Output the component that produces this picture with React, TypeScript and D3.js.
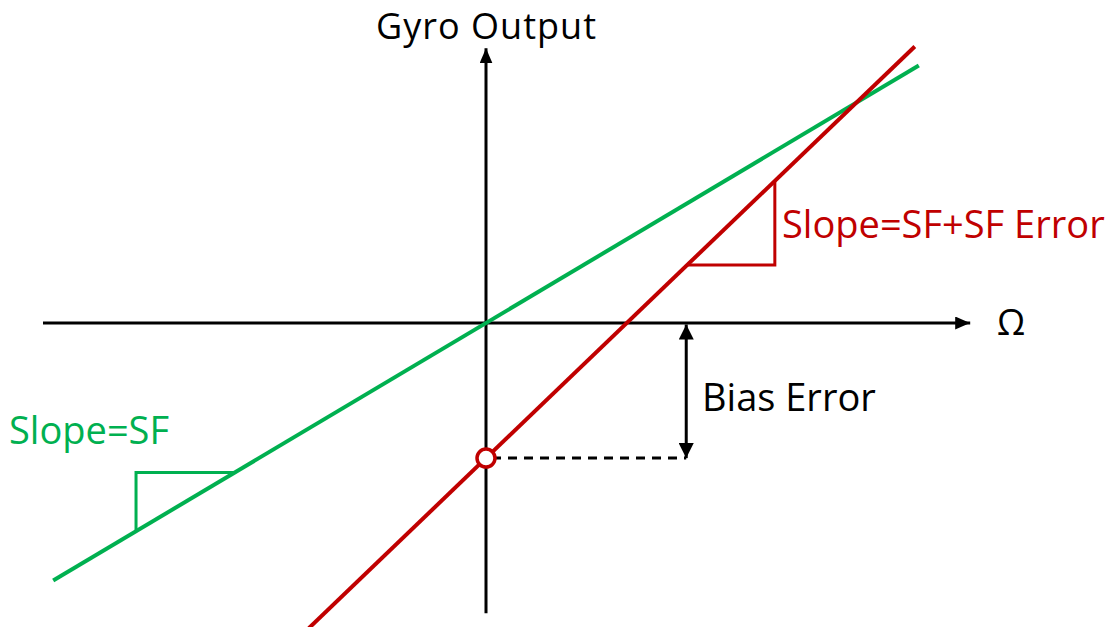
import React from 'react';
import * as d3 from 'd3';

// two response lines: ideal scale factor and scale factor with error + bias
const lineNames = ['SF', 'SF+SF Error'];
const lineColors = ['#00B050', '#C00000'];
const lineSlopes = [0.595, 0.96];
const lineIntercepts = [0, -3.05];
const lineStartX = [-9.77, -4.0];
const lineEndX = [9.77, 9.68];

// slope triangles, [from, to] in omega units
const triangleRuns = [[-7.9, -5.67], [4.54, 6.52]];

// axis extents in chart units
const xAxisExtent = [-10, 10.93];
const yAxisExtent = [-6.55, 6.2];

// where the bias is measured
const biasAt = 4.52;

const width = 1114;
const height = 627;

const xScale = d3.scaleLinear().domain([-10, 10]).range([43, 929]);
const yScale = d3.scaleLinear().domain([-10, 10]).range([766, -120]);

const font = "'Open Sans', 'Noto Sans', sans-serif";

const lineY = (i: number, x: number) => lineSlopes[i] * x + lineIntercepts[i];

const pathGen = d3.line<[number, number]>()
    .x(d => xScale(d[0]))
    .y(d => yScale(d[1]));

export default function App() {
    const bias = lineIntercepts[1];

    const triangles = triangleRuns.map((run, i) => {
        if (i === 0) {
            // green: horizontal above the line, vertical down from it
            const top = lineY(i, run[1]);
            return [[run[0], lineY(i, run[0])], [run[0], top], [run[1], top]] as [number, number][];
        }
        const base = lineY(i, run[0]);
        return [[run[0], base], [run[1], base], [run[1], lineY(i, run[1])]] as [number, number][];
    });

    return (
        <svg width={width} height={height} style={{ position: 'absolute', left: 0, top: 0, background: '#fff' }}>
            <defs>
                <marker id="axisHead" viewBox="0 0 15 13" refX={15} refY={6.5} markerWidth={15} markerHeight={13}
                    markerUnits="userSpaceOnUse" orient="auto">
                    <path d="M0,0 L15,6.5 L0,13 Z" fill="#000" />
                </marker>
                <marker id="biasHead" viewBox="0 0 15 15" refX={15} refY={7.5} markerWidth={15} markerHeight={15}
                    markerUnits="userSpaceOnUse" orient="auto-start-reverse">
                    <path d="M0,0 L15,7.5 L0,15 Z" fill="#000" />
                </marker>
            </defs>

            {/* axes */}
            <line x1={xScale(xAxisExtent[0])} y1={yScale(0)} x2={xScale(xAxisExtent[1])} y2={yScale(0)}
                stroke="#000" strokeWidth={3} markerEnd="url(#axisHead)" />
            <line x1={xScale(0)} y1={yScale(yAxisExtent[0])} x2={xScale(0)} y2={yScale(yAxisExtent[1])}
                stroke="#000" strokeWidth={3} markerEnd="url(#axisHead)" />

            <text x={xScale(0)} y={39} textAnchor="middle" fontFamily={font} fontSize={36} fill="#000"
                textLength={220} lengthAdjust="spacing">Gyro Output</text>
            <text x={997} y={335} fontFamily={font} fontSize={36} fill="#000">Ω</text>

            {/* bias error marker */}
            <line x1={xScale(0) + 6} y1={yScale(bias)} x2={xScale(biasAt)} y2={yScale(bias)}
                stroke="#000" strokeWidth={3} strokeDasharray="9,7" />
            <line x1={xScale(biasAt)} y1={yScale(bias)} x2={xScale(biasAt)} y2={yScale(0) + 1.5}
                stroke="#000" strokeWidth={3} markerStart="url(#biasHead)" markerEnd="url(#biasHead)" />
            <text x={702} y={411} fontFamily={font} fontSize={38} fill="#000">Bias Error</text>

            {/* slope triangles */}
            {triangles.map((pts, i) => (
                <path key={'tri' + i} d={pathGen(pts) || ''} fill="none" stroke={lineColors[i]} strokeWidth={3} />
            ))}

            {/* response lines */}
            {lineNames.map((name, i) => (
                <path key={name}
                    d={pathGen([[lineStartX[i], lineY(i, lineStartX[i])], [lineEndX[i], lineY(i, lineEndX[i])]]) || ''}
                    fill="none" stroke={lineColors[i]} strokeWidth={4} />
            ))}

            <circle cx={xScale(0)} cy={yScale(bias)} r={9} fill="#fff" stroke={lineColors[1]} strokeWidth={3.5} />

            <text x={9} y={444} fontFamily={font} fontSize={38} fill={lineColors[0]}>Slope={lineNames[0]}</text>
            <text x={782} y={238} fontFamily={font} fontSize={38} fill={lineColors[1]}>Slope={lineNames[1]}</text>
        </svg>
    );
}
